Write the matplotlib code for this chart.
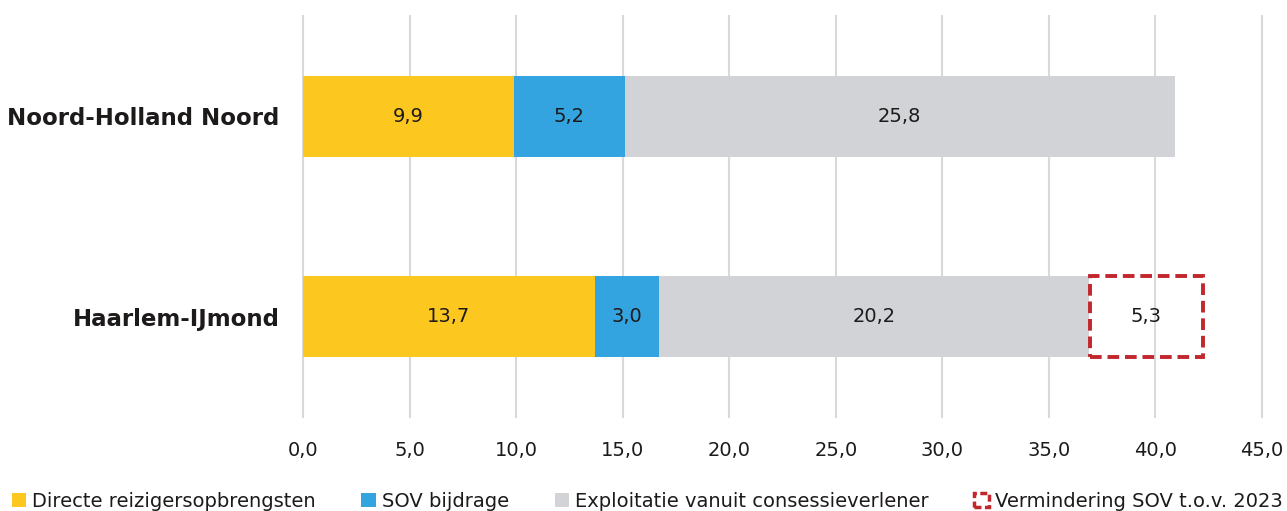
import matplotlib.pyplot as plt
from matplotlib.patches import Rectangle, Patch
from matplotlib.ticker import FuncFormatter

# Data
categories = ['Noord-Holland Noord', 'Haarlem-IJmond']
directe = [9.9, 13.7]
sov = [5.2, 3.0]
exploitatie = [25.8, 20.2]
vermindering = [None, 5.3]
xticks = [0, 5, 10, 15, 20, 25, 30, 35, 40, 45]

series_labels = ['Directe reizigersopbrengsten', 'SOV bijdrage',
                 'Exploitatie vanuit consessieverlener', 'Vermindering SOV t.o.v. 2023']

# Colours
c_yellow = '#FCC820'
c_blue = '#33A4E0'
c_gray = '#D1D3D7'
c_red = '#C1272D'
c_text = '#1d1a1a'

plt.rcParams['font.family'] = ['DejaVu Sans']

fig = plt.figure(figsize=(12.87, 5.11), dpi=100)
ax = fig.add_axes([303 / 1287, 1 - 417 / 511, (1262 - 303) / 1287, (417 - 16) / 511])

ypos = [1, 0]
h = 0.405


def fmt(v):
    return f'{v:.1f}'.replace('.', ',')


left = [0, 0]
for vals, col in [(directe, c_yellow), (sov, c_blue), (exploitatie, c_gray)]:
    ax.barh(ypos, vals, left=left, height=h, color=col, zorder=2)
    for y, l, v in zip(ypos, left, vals):
        ax.text(l + v / 2, y, fmt(v), ha='center', va='center', fontsize=14, color=c_text, zorder=4)
    left = [a + b for a, b in zip(left, vals)]

# dashed box for reduction
for y, l, v in zip(ypos, left, vermindering):
    if v is None:
        continue
    ax.add_patch(Rectangle((l + 0.05, y - h / 2), v, h, fill=False, edgecolor=c_red,
                           linewidth=2.8, linestyle=(0, (3, 1.5)), zorder=3))
    ax.text(l + v / 2, y, fmt(v), ha='center', va='center', fontsize=14, color=c_text, zorder=4)

ax.set_xlim(0, 45)
ax.set_ylim(-0.5, 1.5)
ax.set_xticks(xticks)
ax.xaxis.set_major_formatter(FuncFormatter(lambda v, p: fmt(v)))
ax.set_yticks(ypos)
ax.set_yticklabels(categories, fontsize=16.5, fontweight='bold', color=c_text)
ax.tick_params(axis='x', length=0, pad=17, labelsize=14, labelcolor=c_text)
ax.tick_params(axis='y', length=0, pad=17)
for s in ax.spines.values():
    s.set_visible(False)
ax.grid(axis='x', color='#d9d9d9', linewidth=1.5, zorder=0)
ax.set_axisbelow(True)
for gl in ax.get_xgridlines():
    gl.set_clip_on(False)

handles = [Patch(facecolor=c_yellow), Patch(facecolor=c_blue), Patch(facecolor=c_gray),
           Patch(facecolor='white', edgecolor=c_red, linewidth=2.5, linestyle=(0, (2, 1)))]
fig.legend(handles, series_labels, loc='lower left', bbox_to_anchor=(0.0, -0.022), ncol=4,
           frameon=False, fontsize=14, handlelength=0.75, handleheight=0.75,
           handletextpad=0.3, columnspacing=2.35, labelcolor=c_text, borderaxespad=0.2)

fig.savefig('out.png', dpi=100)
